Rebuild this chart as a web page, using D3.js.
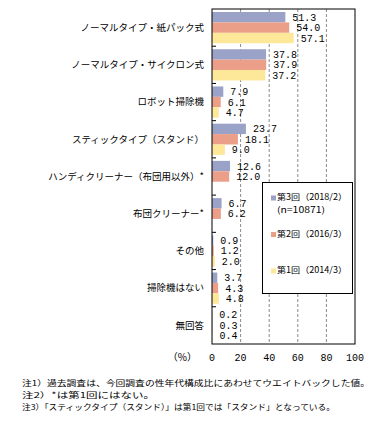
<!DOCTYPE html>
<html>
<head>
<meta charset="utf-8">
<script src="https://cdn.jsdelivr.net/npm/d3@7"></script>
<style>
  body { margin: 0; background: #fff; }
  svg text { font-family: "Noto Sans CJK JP", sans-serif; fill: #000; }
  .num { font-family: "Liberation Mono", monospace; }
</style>
</head>
<body>
<div id="chart"></div>
<script>
// 掃除機の種類（複数回答）
const categories = [
    "ノーマルタイプ・紙パック式",
    "ノーマルタイプ・サイクロン式",
    "ロボット掃除機",
    "スティックタイプ（スタンド）",
    "ハンディクリーナー（布団用以外）*",
    "布団クリーナー*",
    "その他",
    "掃除機はない",
    "無回答"
];
const seriesNames = ["第3回（2018/2）", "第2回（2016/3）", "第1回（2014/3）"];
const wave3 = [51.3, 37.8, 7.9, 23.7, 12.6, 6.7, 0.9, 3.7, 0.2];
const wave2 = [54.0, 37.9, 6.1, 18.1, 12.0, 6.2, 1.2, 4.3, 0.3];
const wave1 = [57.1, 37.2, 4.7, 9.0, null, null, 2.0, 4.8, 0.4];
const xTicks = [0, 20, 40, 60, 80, 100];
const notes = [
    "注1）過去調査は、今回調査の性年代構成比にあわせてウエイトバックした値。",
    "注2）*は第1回にはない。",
    "注3）「スティックタイプ（スタンド）」は第1回では「スタンド」となっている。"
];

const colors = ["#9ba2c8", "#eb9e88", "#fde799"];
const width = 373, height = 424;
const plot = { left: 212, right: 355, top: 9, bottom: 344 };

const svg = d3.select("#chart").append("svg")
    .attr("width", width)
    .attr("height", height);

const x = d3.scaleLinear().domain([0, 100]).range([plot.left, plot.right]);
const y = d3.scaleBand().domain(categories).range([plot.top, plot.bottom]);
const sub = d3.scaleBand().domain([0, 1, 2]).range([3, y.bandwidth() - 3]);

// gridlines
svg.append("g")
    .selectAll("line")
    .data(xTicks.slice(1, -1))
    .join("line")
    .attr("x1", d => x(d)).attr("x2", d => x(d))
    .attr("y1", plot.top).attr("y2", plot.bottom)
    .attr("stroke", "#8a8a8a")
    .attr("stroke-dasharray", "3,2");

// bars
const series = [wave3, wave2, wave1];
series.forEach((vals, s) => {
    const rows = categories.map((c, i) => ({ c, v: vals[i] })).filter(d => d.v !== null);
    svg.append("g")
        .selectAll("rect")
        .data(rows)
        .join("rect")
        .attr("x", x(0))
        .attr("y", d => y(d.c) + sub(s))
        .attr("width", d => x(d.v) - x(0))
        .attr("height", sub.bandwidth())
        .attr("fill", colors[s]);

    svg.append("g")
        .selectAll("text")
        .data(rows)
        .join("text")
        .attr("class", "num")
        .attr("x", d => x(d.v) + 7)
        .attr("y", d => y(d.c) + sub(s) + sub.bandwidth() / 2)
        .attr("dy", "0.35em")
        .style("font-size", "10px")
        .text(d => d.v.toFixed(1));
});

// plot frame
svg.append("rect")
    .attr("x", plot.left).attr("y", plot.top)
    .attr("width", plot.right - plot.left)
    .attr("height", plot.bottom - plot.top)
    .attr("fill", "none")
    .attr("stroke", "#000");

// inward category ticks
svg.append("g")
    .selectAll("line")
    .data(categories.slice(1))
    .join("line")
    .attr("x1", plot.left).attr("x2", plot.left + 4)
    .attr("y1", d => y(d)).attr("y2", d => y(d))
    .attr("stroke", "#000");

// category labels
svg.append("g")
    .selectAll("text")
    .data(categories)
    .join("text")
    .attr("x", 204)
    .attr("y", d => y(d) + y.bandwidth() / 2)
    .attr("dy", "0.35em")
    .attr("text-anchor", "end")
    .style("font-size", "9.5px")
    .text(d => d);

// x tick labels
svg.append("g")
    .selectAll("text")
    .data(xTicks)
    .join("text")
    .attr("class", "num")
    .attr("x", d => x(d))
    .attr("y", 357)
    .attr("dy", "0.35em")
    .attr("text-anchor", "middle")
    .style("font-size", "10px")
    .text(d => d);

svg.append("text")
    .attr("x", 197).attr("y", 357).attr("dy", "0.35em")
    .attr("text-anchor", "end")
    .style("font-size", "10px")
    .text("（%）");

// legend
const legend = svg.append("g");
legend.append("rect")
    .attr("x", 262.5).attr("y", 182.5)
    .attr("width", 90).attr("height", 111)
    .attr("fill", "#fff").attr("stroke", "#000");
const legendY = [197.5, 234, 270.5];
seriesNames.forEach((name, s) => {
    legend.append("rect")
        .attr("x", 271).attr("y", legendY[s] - 2)
        .attr("width", 5).attr("height", 5)
        .attr("fill", colors[s]);
    legend.append("text")
        .attr("x", 277).attr("y", legendY[s]).attr("dy", "0.35em")
        .attr("textLength", 70)
        .attr("lengthAdjust", "spacingAndGlyphs")
        .style("font-size", "8.5px")
        .text(name);
});
legend.append("text")
    .attr("x", 277).attr("y", 210.5).attr("dy", "0.35em")
    .attr("textLength", 48)
    .attr("lengthAdjust", "spacingAndGlyphs")
    .style("font-size", "8.5px")
    .text("(n=10871)");

// notes
const noteLen = [348, 133, 313];
svg.append("g")
    .selectAll("text")
    .data(notes)
    .join("text")
    .attr("x", 22)
    .attr("y", (d, i) => 383 + i * 12)
    .attr("dy", "0.35em")
    .attr("textLength", (d, i) => noteLen[i])
    .attr("lengthAdjust", "spacingAndGlyphs")
    .style("font-size", "8px")
    .text(d => d);
</script>
</body>
</html>
